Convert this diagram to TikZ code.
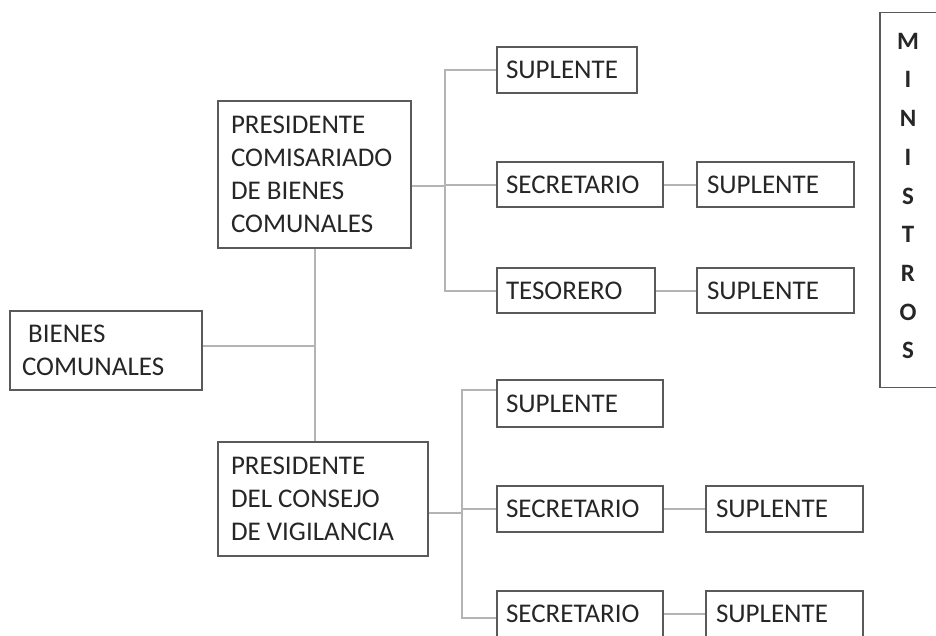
\documentclass[tikz,border=0pt]{standalone}
\usepackage{fontspec}
\setmainfont{Carlito}
\definecolor{boxc}{HTML}{5A5A5A}
\definecolor{linec}{HTML}{B4B4B4}
\definecolor{txt}{HTML}{262626}
\begin{document}
\begin{tikzpicture}[x=1pt,y=-1pt,
  bx/.style={draw=boxc, line width=1.8pt, text=txt, align=flush left, inner ysep=0pt,
    font=\fontsize{27}{33}\selectfont, anchor=center},
  one/.style={bx, inner xsep=9pt, minimum height=46pt},
  ln/.style={draw=linec, line width=2pt}]
\useasboundingbox (0,0) rectangle (936,635);
% main boxes
\node[bx, inner xsep=13pt, text width=167pt, minimum height=147pt] (p1) at (314.5,174.5)
  {PRESIDENTE\\COMISARIADO\\DE BIENES\\COMUNALES};
\node[bx, inner xsep=12pt, text width=168pt, minimum height=79pt] (bc) at (106,350.5)
  {\ BIENES\\COMUNALES};
\node[bx, inner xsep=13pt, text width=184pt, minimum height=114pt] (p2) at (323,499)
  {PRESIDENTE\\DEL CONSEJO\\DE VIGILANCIA};
% upper branch
\node[one, text width=122pt] (s1) at (567,70) {SUPLENTE};
\node[one, text width=148pt, minimum height=45pt] (sec1) at (580,184.5) {SECRETARIO};
\node[one, inner xsep=10pt, text width=137pt, minimum height=45pt] (s2) at (775.5,184.5) {SUPLENTE};
\node[one, text width=140pt, minimum height=45pt] (tes) at (576,290.5) {TESORERO};
\node[one, inner xsep=10pt, text width=137pt, minimum height=45pt] (s3) at (775.5,290.5) {SUPLENTE};
% lower branch
\node[one, text width=148pt, minimum height=47pt] (s4) at (580,403.5) {SUPLENTE};
\node[one, text width=148pt] (sec2) at (580,509) {SECRETARIO};
\node[one, inner xsep=10pt, text width=137pt] (s5) at (784.5,509) {SUPLENTE};
\node[one, text width=148pt] (sec3) at (580,614) {SECRETARIO};
\node[one, inner xsep=10pt, text width=137pt] (s6) at (784.5,614) {SUPLENTE};
% ministros
\node[draw=boxc, line width=1.8pt, minimum width=58pt, minimum height=375pt] (min) at (909,200) {};
\node[text=txt, align=center, inner sep=0pt,
  font=\fontsize{25}{38.7}\selectfont\bfseries] (mintxt) at (908,196)
  {M\\I\\N\\I\\S\\T\\R\\O\\S};
% junction coordinates
\coordinate (jb) at (314.5,346);
\coordinate (j1) at (445,186);
\coordinate (t2) at (462,390);
\coordinate (j2) at (462,513);
\coordinate (b2) at (462,618);
% connectors
\draw[ln] (p1.south) -- (p1.south |- p2.north);
\draw[ln] (jb -| bc.east) -- (jb);
\draw[ln] (j1 -| p1.east) -- (j1);
\draw[ln] (s1.west) -- (s1.west -| j1) -- (tes.west -| j1) -- (tes.west);
\draw[ln] (sec1.west) -- (sec1.west -| j1);
\draw[ln] (sec1.east) -- (s2.west);
\draw[ln] (tes.east) -- (s3.west);
\draw[ln] (j2 -| p2.east) -- (j2);
\draw[ln] (t2 -| s4.west) -- (t2) -- (b2) -- (b2 -| sec3.west);
\draw[ln] (sec2.west) -- (sec2.west -| j2);
\draw[ln] (sec2.east) -- (s5.west);
\draw[ln] (sec3.east) -- (s6.west);
\end{tikzpicture}
\end{document}
